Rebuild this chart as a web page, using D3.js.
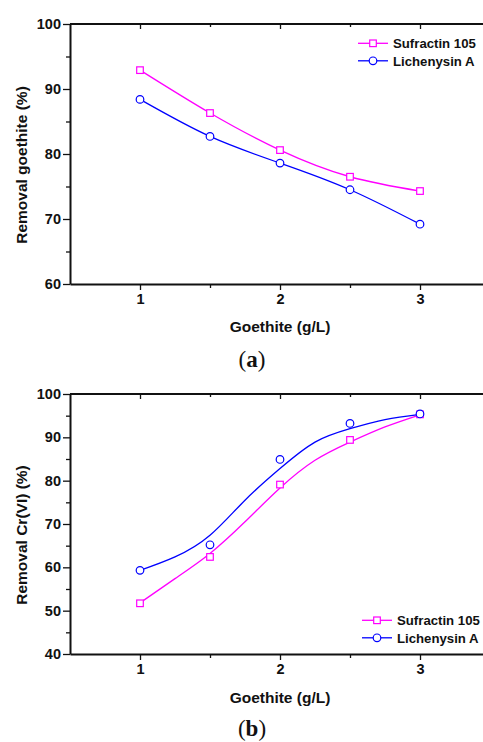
<!DOCTYPE html>
<html>
<head>
<meta charset="utf-8">
<script src="https://cdn.jsdelivr.net/npm/d3@7"></script>
<style>
  body { margin: 0; background: #fff; }
  svg { display: block; }
</style>
</head>
<body>
<div id="chart"></div>
<script>
var width = 483;
var height = 742;
var sans = "'Liberation Sans', Arial, sans-serif";

// x values (goethite g/L)
var goethite = [1, 1.5, 2, 2.5, 3];

// panel (a): removal of goethite (%)
var surfA = [92.9, 86.3, 80.6, 76.5, 74.3];
var lichA = [88.4, 82.7, 78.6, 74.5, 69.2];

// panel (b): removal Cr(VI) (%)
var surfB = [51.7, 62.4, 79.1, 89.4, 95.3];
var lichB = [59.3, 65.2, 84.9, 93.2, 95.4];

// fitted curves of panel (b)
var fitX = [1, 1.25, 1.5, 1.75, 2, 2.25, 2.5, 2.75, 3];
var surfFit = [51.8, 57.4, 63.2, 70.5, 78.3, 84.7, 88.9, 92.4, 95.2];
var lichFit = [59.3, 62.4, 67.4, 75.5, 82.8, 88.9, 92.0, 94.1, 95.3];

var yTicksA = [60, 70, 80, 90, 100];
var yTicksB = [40, 50, 60, 70, 80, 90, 100];
var xTicks = [1, 2, 3];

var pink = "#ff00ff";
var blue = "#0000ff";

var svg = d3.select("#chart")
    .append("svg")
    .attr("width", width)
    .attr("height", height);

function noDomain(s) { s.select(".domain").remove(); }

function panel(cfg) {
    var g = svg.append("g");
    var x = d3.scaleLinear().domain([0.5, 3.5]).range([70, 490]);
    var y = d3.scaleLinear().domain(cfg.yDomain).range([cfg.bottom, cfg.top]);

    // minor ticks
    var yMinor = d3.range(cfg.yDomain[0] + 5, cfg.yDomain[1], 10);
    g.append("g")
        .attr("transform", "translate(70,0)")
        .call(d3.axisLeft(y).tickValues(yMinor).tickSize(4).tickFormat(""))
        .call(noDomain);
    g.append("g")
        .attr("transform", "translate(0," + cfg.bottom + ")")
        .call(d3.axisBottom(x).tickValues([1.5, 2.5]).tickSize(4).tickFormat(""))
        .call(noDomain);
    g.append("g")
        .attr("transform", "translate(0," + cfg.top + ")")
        .call(d3.axisBottom(x).tickValues([1.5, 2.5]).tickSize(3).tickFormat(""))
        .call(noDomain);
    g.append("g")
        .attr("transform", "translate(0," + cfg.top + ")")
        .call(d3.axisBottom(x).tickValues(xTicks).tickSize(5).tickFormat(""))
        .call(noDomain);

    // main axes
    g.append("g")
        .attr("transform", "translate(70,0)")
        .call(d3.axisLeft(y).tickValues(cfg.yTicks).tickSize(7).tickPadding(2).tickSizeOuter(0));
    g.append("g")
        .attr("transform", "translate(0," + cfg.bottom + ")")
        .call(d3.axisBottom(x).tickValues(xTicks).tickFormat(d3.format("d")).tickSize(6).tickPadding(4).tickSizeOuter(0));
    g.append("line")
        .attr("x1", 70).attr("x2", 490)
        .attr("y1", cfg.top).attr("y2", cfg.top)
        .attr("stroke", "#111").attr("stroke-width", 2);
    g.selectAll(".domain").attr("stroke", "#111").attr("stroke-width", 2);
    g.selectAll(".tick line").attr("stroke", "#111").attr("stroke-width", 1.3);
    g.selectAll(".tick text")
        .style("font-family", sans)
        .style("font-weight", "bold")
        .style("font-size", "14.5px")
        .attr("fill", "#111");

    // labels
    g.append("text")
        .attr("transform", "translate(27," + cfg.ylabelY + ") rotate(-90)")
        .attr("text-anchor", "middle")
        .style("font-family", sans).style("font-weight", "bold").style("font-size", "15.5px")
        .attr("fill", "#111")
        .text(cfg.ylabel);
    g.append("text")
        .attr("x", 280).attr("y", cfg.xlabelY)
        .attr("text-anchor", "middle")
        .style("font-family", sans).style("font-weight", "bold").style("font-size", "15.5px")
        .attr("fill", "#111")
        .text("Goethite (g/L)");
    var cap = g.append("text")
        .attr("x", 252).attr("y", cfg.capY)
        .attr("text-anchor", "middle")
        .style("font-family", "'Liberation Serif', 'DejaVu Serif', serif")
        .style("font-size", "23px")
        .attr("fill", "#111");
    cap.append("tspan").text("(");
    cap.append("tspan").attr("font-weight", "bold").text(cfg.cap);
    cap.append("tspan").text(")");

    // curves
    var line = d3.line()
        .x(function(d) { return x(d[0]); })
        .y(function(d) { return y(d[1]); })
        .curve(d3.curveNatural);

    var series = [
        { name: "Sufractin 105", color: pink, pts: d3.zip(goethite, cfg.surf), fit: d3.zip(cfg.fitX, cfg.surfFit), shape: "square" },
        { name: "Lichenysin A", color: blue, pts: d3.zip(goethite, cfg.lich), fit: d3.zip(cfg.fitX, cfg.lichFit), shape: "circle" }
    ];

    series.forEach(function(s) {
        g.append("path")
            .attr("d", line(s.fit))
            .attr("fill", "none")
            .attr("stroke", s.color)
            .attr("stroke-width", 1.3);
    });

    function marker(sel, s, cx, cy) {
        if (s.shape === "square") {
            sel.append("rect")
                .attr("x", cx - 3.3).attr("y", cy - 3.3)
                .attr("width", 6.6).attr("height", 6.6)
                .attr("fill", "#fff").attr("stroke", s.color).attr("stroke-width", 1.2);
        } else {
            sel.append("circle")
                .attr("cx", cx).attr("cy", cy).attr("r", 3.8)
                .attr("fill", "#fff").attr("stroke", s.color).attr("stroke-width", 1.2);
        }
    }

    series.forEach(function(s) {
        s.pts.forEach(function(p) { marker(g, s, x(p[0]), y(p[1])); });
    });

    // legend
    series.forEach(function(s, i) {
        var ly = cfg.legY + i * 17.5;
        g.append("line")
            .attr("x1", cfg.legX).attr("x2", cfg.legX + 30)
            .attr("y1", ly).attr("y2", ly)
            .attr("stroke", s.color).attr("stroke-width", 1.3);
        marker(g, s, cfg.legX + 15, ly);
        g.append("text")
            .attr("x", cfg.legX + 35).attr("y", ly + 4.7)
            .style("font-family", sans).style("font-weight", "bold").style("font-size", "13.2px")
            .attr("fill", "#111")
            .text(s.name);
    });
}

panel({
    top: 24, bottom: 284, yDomain: [60, 100], yTicks: yTicksA,
    surf: surfA, lich: lichA,
    fitX: goethite, surfFit: surfA, lichFit: lichA,
    ylabel: "Removal goethite (%)", ylabelY: 165,
    xlabelY: 332, cap: "a", capY: 367,
    legX: 358, legY: 43.3
});

panel({
    top: 394, bottom: 654, yDomain: [40, 100], yTicks: yTicksB,
    surf: surfB, lich: lichB,
    fitX: fitX, surfFit: surfFit, lichFit: lichFit,
    ylabel: "Removal Cr(VI) (%)", ylabelY: 535,
    xlabelY: 702.7, cap: "b", capY: 736,
    legX: 362, legY: 620.3
});
</script>
</body>
</html>
